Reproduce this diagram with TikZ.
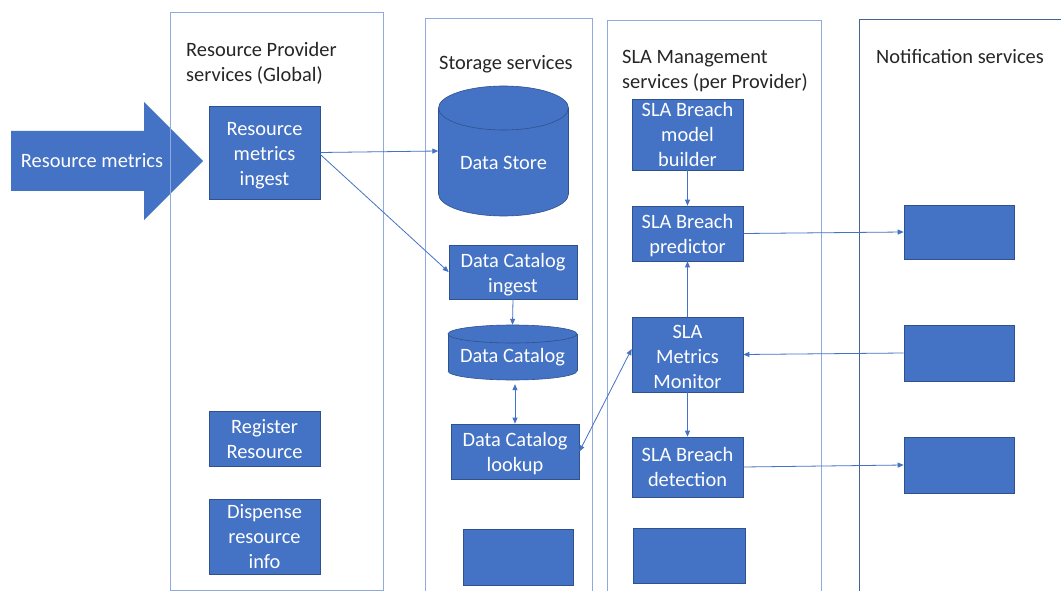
\documentclass[tikz,border=0pt]{standalone}
\usepackage{fontspec}
\setmainfont{Carlito}
\usetikzlibrary{arrows.meta}
\definecolor{boxfill}{RGB}{68,114,196}
\definecolor{boxline}{RGB}{47,82,143}
\definecolor{framelight}{RGB}{143,170,220}
\definecolor{framedark}{RGB}{72,98,150}
\definecolor{titletext}{RGB}{38,38,38}
\tikzset{
  box/.style={draw=boxline, line width=0.7pt, fill=boxfill, inner sep=0pt},
  boxtext/.style={text=white, align=center, inner sep=0pt, font=\fontsize{20.4}{25}\selectfont},
  ghost/.style={inner sep=0pt},
  lbl/.style={text=white, inner sep=0pt, font=\fontsize{20.4}{25}\selectfont},
  title/.style={text=titletext, align=left, inner sep=0pt, anchor=base west, font=\fontsize{20.4}{25}\selectfont},
  frameA/.style={draw=framelight, line width=0.9pt},
  frameB/.style={draw=framedark, line width=0.9pt},
  conn/.style={draw=boxfill, line width=0.8pt, -{Triangle[length=6pt,width=5pt]}},
  conn2/.style={draw=boxfill, line width=0.8pt, {Triangle[length=6pt,width=5pt]}-{Triangle[length=6pt,width=5pt]}},
  cylfill/.style={fill=boxfill},
  cylline/.style={draw=boxline, line width=0.6pt}
}
\begin{document}
\begin{tikzpicture}[x=1pt,y=-1pt]
\useasboundingbox (0,0) rectangle (1061,591);
\fill[white] (0,0) rectangle (1061,591);

% big input arrow
\fill[boxfill] (11,131) -- (144,131) -- (144,102) -- (203,161) -- (144,220) -- (144,191) -- (11,191) -- cycle;
\node[lbl] (rm) at (92,161) {Resource metrics};

% frames
\draw[frameA] (170,12) rectangle (383.5,590);
\draw[frameA] (425,592) -- (425,18.5) -- (592,18.5) -- (592,592);
\draw[frameA] (607,592) -- (607,20.5) -- (821,20.5) -- (821,592);
\draw[frameB] (859,592) -- (859,19) -- (1062,19);

% titles (anchor = baseline of last line)
\node[title] (t1) at (186,82) {Resource Provider\\services (Global)};
\node[title] (t2) at (439,69.5) {Storage services};
\node[title] (t3) at (622,88.5) {SLA Management\\services (per Provider)};
\node[title] (t4) at (876,63.5) {Notification services};

% Resource provider boxes
\node[box, minimum width=111pt, minimum height=93pt,
  label={[boxtext,yshift=-3pt]center:{Resource\\metrics\\ingest}}] (ingest) at (264.5,152.5) {};
\node[box, minimum width=111pt, minimum height=55pt,
  label={[boxtext,yshift=-1pt]center:{Register\\Resource}}] (register) at (264.5,438.5) {};
\node[box, minimum width=111pt, minimum height=75pt,
  label={[boxtext]center:{Dispense\\resource\\info}}] (dispense) at (264.5,536.5) {};

% Data Store cylinder
\fill[cylfill] (438.5,108) rectangle (568.5,194);
\fill[cylfill] (503.5,194) ellipse [x radius=65pt, y radius=22pt];
\draw[cylline] (438.5,108) -- (438.5,194) (568.5,108) -- (568.5,194);
\begin{scope}
\clip (430,194) rectangle (580,225);
\draw[cylline] (503.5,194) ellipse [x radius=65pt, y radius=22pt];
\end{scope}
\fill[cylfill] (503.5,108) ellipse [x radius=65pt, y radius=22pt];
\draw[cylline] (503.5,108) ellipse [x radius=65pt, y radius=22pt];
\node[ghost, minimum width=130pt, minimum height=130pt] (ds) at (503.5,151) {};
\node[lbl] (dstext) at (503.5,163) {Data Store};

% Data Catalog ingest
\node[box, minimum width=128pt, minimum height=54pt,
  label={[boxtext,yshift=-3pt]center:{Data Catalog\\ingest}}] (dcingest) at (513,272) {};

% Data Catalog cylinder
\fill[cylfill] (448,334) rectangle (577,371);
\fill[cylfill] (512.5,371) ellipse [x radius=64.5pt, y radius=9pt];
\draw[cylline] (448,334) -- (448,371) (577,334) -- (577,371);
\begin{scope}
\clip (440,371) rectangle (585,385);
\draw[cylline] (512.5,371) ellipse [x radius=64.5pt, y radius=9pt];
\end{scope}
\fill[cylfill] (512.5,334) ellipse [x radius=64.5pt, y radius=9pt];
\draw[cylline] (512.5,334) ellipse [x radius=64.5pt, y radius=9pt];
\node[ghost, minimum width=129pt, minimum height=55pt] (dc) at (512.5,352.5) {};
\node[lbl] (dctext) at (512.5,357.5) {Data Catalog};

\node[box, minimum width=128pt, minimum height=55pt,
  label={[boxtext,yshift=-2pt]center:{Data Catalog\\lookup}}] (dclookup) at (515,451.5) {};
\node[box, minimum width=110pt, minimum height=56pt] (stbottom) at (518,557) {};

% SLA boxes
\node[box, minimum width=111pt, minimum height=71pt,
  label={[boxtext]center:{SLA Breach\\model\\builder}}] (model) at (687.5,134.5) {};
\node[box, minimum width=111pt, minimum height=55pt,
  label={[boxtext,yshift=-2pt]center:{SLA Breach\\predictor}}] (predictor) at (687.5,233.5) {};
\node[box, minimum width=111pt, minimum height=75pt,
  label={[boxtext,yshift=-2pt]center:{SLA\\Metrics\\Monitor}}] (monitor) at (687.5,354.5) {};
\node[box, minimum width=111pt, minimum height=60pt,
  label={[boxtext]center:{SLA Breach\\detection}}] (detection) at (687.5,467) {};
\node[box, minimum width=112pt, minimum height=55pt] (slabottom) at (689,555.5) {};

% Notification boxes
\node[box, minimum width=110pt, minimum height=54pt] (n1) at (959,232) {};
\node[box, minimum width=110pt, minimum height=56pt] (n2) at (959,353) {};
\node[box, minimum width=110pt, minimum height=56pt] (n3) at (959,465) {};

% connectors
\draw[conn] (ingest.east) -- (ds.west);
\draw[conn] ([yshift=-2pt]ingest.east) -- (dcingest.west);
\draw[conn] (dcingest.south) -- (dc.north);
\draw[conn2, shorten <=4pt] ([xshift=2.5pt]dc.south) -- (dclookup.north);
\draw[conn2] (dclookup.east) -- ([yshift=5.5pt]monitor.west);
\draw[conn] (model.south) -- (predictor.north);
\draw[conn] (monitor.north) -- (predictor.south);
\draw[conn] (predictor.east) -- (n1.west);
\draw[conn] (n2.west) -- (monitor.east);
\draw[conn] (monitor.south) -- (detection.north);
\draw[conn] (detection.east) -- (n3.west);
\end{tikzpicture}
\end{document}
